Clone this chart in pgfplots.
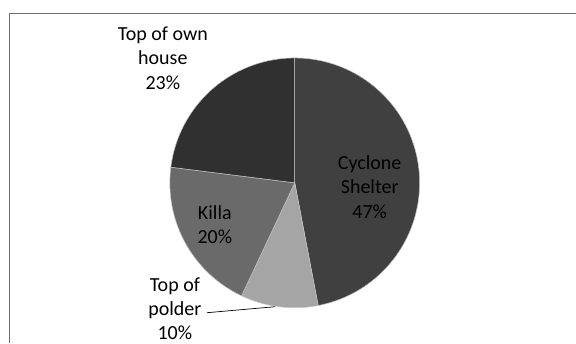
\documentclass[border=0pt]{standalone}
\usepackage{pgfplots}
\pgfplotsset{compat=1.18}
\usepackage{fontspec}
\setmainfont{Carlito}
\definecolor{cCyc}{HTML}{404040}
\definecolor{cPol}{HTML}{A5A5A5}
\definecolor{cKil}{HTML}{6A6A6A}
\definecolor{cOwn}{HTML}{303030}
% shares (%)
\def\vCyc{47}\def\vPol{10}\def\vKil{20}\def\vOwn{23}
\pgfmathsetmacro{\aA}{90}
\pgfmathsetmacro{\aB}{\aA-\vCyc*3.6}
\pgfmathsetmacro{\aC}{\aB-\vPol*3.6}
\pgfmathsetmacro{\aD}{\aC-\vKil*3.6}
\pgfmathsetmacro{\aE}{\aD-\vOwn*3.6}
\def\cx{295}\def\cy{160}\def\rr{125}
\begin{document}
\begin{tikzpicture}
\begin{axis}[
  scale only axis, width=576pt, height=343pt,
  xmin=0, xmax=576, ymin=0, ymax=343,
  hide axis, clip=false,
  samples=90,
]
\path (0,0) (576,343);
\draw[gray!85!black, line width=1pt] (10,0) -- (10,329) -- (576,329);
\addplot[fill=cCyc, draw=white!55!gray, line width=0.5pt, domain=\aB:\aA, variable=\t]
  ({\cx+\rr*cos(\t)},{\cy+\rr*sin(\t)}) -- (\cx,\cy) -- cycle;
\addplot[fill=cPol, draw=white!55!gray, line width=0.5pt, domain=\aC:\aB, variable=\t]
  ({\cx+\rr*cos(\t)},{\cy+\rr*sin(\t)}) -- (\cx,\cy) -- cycle;
\addplot[fill=cKil, draw=white!55!gray, line width=0.5pt, domain=\aD:\aC, variable=\t]
  ({\cx+\rr*cos(\t)},{\cy+\rr*sin(\t)}) -- (\cx,\cy) -- cycle;
\addplot[fill=cOwn, draw=white!55!gray, line width=0.5pt, domain=\aE:\aD, variable=\t]
  ({\cx+\rr*cos(\t)},{\cy+\rr*sin(\t)}) -- (\cx,\cy) -- cycle;
\draw[black, line width=0.7pt] (207,30) -- (275,36);
\tikzset{lbl/.style={align=center, inner sep=0pt, font=\fontsize{20}{24.5}\selectfont}}
\node[lbl, text=black] at (370,156) {Cyclone\\Shelter\\47\%};
\node[lbl, text=black] at (215,118) {Killa\\20\%};
\node[lbl, text=black] at (163,285) {Top of own\\house\\23\%};
\node[lbl, text=black] at (175,34) {Top of\\polder\\10\%};
\end{axis}
\end{tikzpicture}
\end{document}
